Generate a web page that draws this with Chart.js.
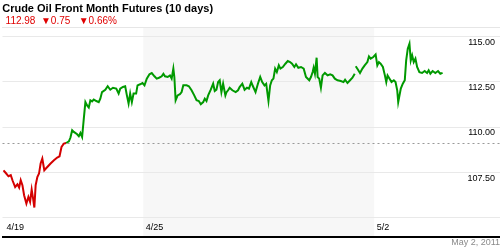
<!DOCTYPE html>
<html>
<head>
<meta charset="utf-8">
<script src="https://cdn.jsdelivr.net/npm/chart.js@4"></script>
<style>
  body { margin: 0; background: #fff; }
</style>
</head>
<body>
<canvas id="chart" width="500" height="250"></canvas>
<script>
// session clock (x) and front month price
const times = [1, 3.3, 6, 8.3, 10, 12.7, 15, 16.7, 18.3, 20, 21.7, 24, 26, 27.7, 29.3, 30.7, 32, 33.3, 35, 36.7,
  38.3, 40, 42, 45, 48.3, 51.7, 55, 57.3, 59.3, 61.7, 64, 66.7, 68.3, 70, 71.7, 75, 76.7, 78.3, 80, 81.7,
  83.3, 85, 86.7, 88.3, 90, 91.7, 94.3, 96.7, 98.3, 100, 103.3, 105.7, 108.3, 111, 114.3, 116.7, 118.3, 121, 123.3, 125,
  126.7, 128.3, 130, 131.7, 134.3, 135.7, 138.3, 140.7, 142.7, 145, 147.7, 150, 152.7, 155, 157.3, 160, 161.7, 163.3, 166, 168.3,
  170, 171.7, 172.7, 174, 176, 178.3, 180, 181.7, 185, 187.3, 190, 192.7, 195, 197.3, 199.3, 201.7, 203.3, 205, 206.7, 209.3,
  211.7, 213.3, 215, 216.7, 218.3, 220, 221.7, 224, 225, 226.7, 228.3, 231, 234.3, 236.7, 238.3, 241, 243.3, 245.7, 247.7, 250,
  251.7, 254.3, 256.7, 259, 261, 263.3, 265, 267.3, 269, 270.7, 272.3, 274, 275.7, 277.7, 279.3, 281.7, 284.3, 286.7, 289, 291,
  293.3, 295, 297.3, 300, 302.7, 305, 308.3, 310, 311.7, 312.7, 314, 315.7, 316.7, 318.3, 320, 321.7, 324, 326.7, 329.3, 331.7,
  334, 336.7, 340, 342.7, 344.3, 346.7, 349.3, 351.7, 354, 354.5, 355, 357.3, 359.3, 361.7, 364, 366.7, 368.3, 370, 372.7, 375,
  376.7, 378.3, 380, 382.3, 384.3, 385.7, 387, 389, 391, 393.3, 395, 396.7, 397.7, 399, 400.3, 402.3, 404.3, 405.7, 407.3, 409,
  410.3, 411.7, 413.3, 415, 416.7, 419, 421.7, 424.3, 426.7, 428.3, 430, 432.3, 435, 437.7, 440, 442.3];

const prices = [107.62, 107.47, 107.29, 107.35, 107.07, 106.70, 106.85, 106.67, 107.07, 106.80, 106.25, 105.79, 106.15, 105.88, 106.56, 106.07, 105.57, 106.80, 107.25, 107.44,
  107.99, 108.26, 107.62, 107.80, 107.99, 108.17, 108.32, 108.39, 108.90, 109.09, 109.12, 109.21, 109.42, 109.82, 109.73, 109.60, 109.49, 109.67, 109.45, 110.46,
  111.37, 111.19, 111.07, 111.47, 111.41, 111.51, 111.43, 111.37, 111.56, 111.92, 112.05, 112.24, 112.05, 112.16, 112.11, 111.84, 112.11, 112.20, 112.24, 111.74,
  111.29, 111.84, 111.37, 111.84, 111.84, 112.29, 112.35, 112.42, 112.29, 112.66, 112.90, 112.97, 112.79, 112.66, 112.71, 112.79, 112.93, 112.79, 112.75, 112.84,
  112.66, 113.21, 112.75, 111.47, 111.74, 111.80, 111.92, 112.29, 112.29, 112.24, 112.02, 111.74, 111.47, 111.43, 111.25, 111.37, 111.56, 111.43, 111.74, 112.05,
  112.38, 111.98, 112.05, 112.47, 112.57, 111.92, 112.38, 111.74, 111.90, 112.02, 112.16, 112.02, 111.92, 112.02, 112.20, 112.38, 112.05, 112.16, 112.11, 112.47,
  112.24, 111.92, 112.38, 112.75, 112.47, 112.29, 112.38, 111.43, 112.29, 112.57, 112.66, 113.21, 113.02, 113.39, 113.21, 113.30, 113.48, 113.63, 113.57, 113.48,
  113.30, 113.45, 113.26, 113.30, 113.21, 112.75, 112.57, 112.75, 113.02, 113.26, 112.93, 113.81, 112.75, 112.66, 112.16, 112.84, 112.97, 112.84, 112.90, 112.84,
  112.66, 112.57, 112.53, 112.47, 112.60, 112.42, 112.57, 112.71, 112.93, null, 113.34, 113.15, 112.97, 113.21, 113.39, 113.57, 113.88, 113.76, 113.85, 113.99,
  113.39, 113.57, 113.48, 113.30, 112.84, 112.47, 112.84, 112.66, 112.47, 112.57, 112.47, 112.02, 111.37, 111.74, 112.11, 112.38, 112.57, 113.66, 114.31, 114.58,
  113.66, 113.94, 113.57, 113.76, 113.30, 113.02, 112.97, 113.08, 112.97, 113.12, 112.93, 113.08, 112.97, 113.08, 112.93, 112.98];

const dayTicks = [1.5, 141.5, 373.5];
const dayLabels = ['4/19', '4/25', '5/2'];
const priceTicks = [105, 107.5, 110, 112.5, 115];
const prevClose = 109.12;
const lastPrice = '112.98', change = '0.75', changePct = '0.66%';
const asOf = 'May 2, 2011';

const RED = '#d40000', GREEN = '#009900';

Chart.defaults.font.family = 'Arial, "Liberation Sans", sans-serif';

// grey band for the week of 4/25 and the dotted reference level
const decor = {
  id: 'decor',
  beforeDraw(chart) {
    const { ctx, chartArea: a, scales: { x } } = chart;
    const x0 = x.getPixelForValue(dayTicks[1]);
    const x1 = x.getPixelForValue(dayTicks[2]);
    ctx.save();
    ctx.fillStyle = '#f7f7f7';
    ctx.fillRect(x0, a.top, x1 - x0, a.bottom - a.top);
    ctx.restore();
  },
  beforeDatasetsDraw(chart) {
    const { ctx, chartArea: a, scales: { y } } = chart;
    const py = Math.round(y.getPixelForValue(prevClose)) + 0.5;
    ctx.save();
    ctx.strokeStyle = '#999';
    ctx.lineWidth = 1;
    ctx.setLineDash([2, 3]);
    ctx.beginPath();
    ctx.moveTo(a.left, py);
    ctx.lineTo(a.right, py);
    ctx.stroke();
    ctx.restore();
  }
};

new Chart(document.getElementById('chart'), {
  type: 'line',
  data: {
    datasets: [{
      data: times.map((t, i) => ({ x: t, y: prices[i] })),
      borderWidth: 2,
      pointRadius: 0,
      tension: 0,
      spanGaps: false,
      segment: {
        borderColor: c => ((c.p0.parsed.y + c.p1.parsed.y) / 2 < prevClose ? RED : GREEN)
      }
    }]
  },
  options: {
    responsive: false,
    animation: false,
    layout: { padding: 0 },
    plugins: {
      legend: { display: false },
      tooltip: { enabled: false },
      title: {
        display: true,
        text: '\u2009Crude Oil Front Month Futures (10 days)',
        align: 'start',
        color: '#000',
        font: { size: 11, weight: 'bold', lineHeight: '12px' },
        padding: { top: 3, bottom: 0 }
      },
      subtitle: {
        display: true,
        text: '  ' + lastPrice + '  \u25BC' + change + '   \u25BC' + changePct,
        align: 'start',
        color: '#e00000',
        font: { size: 10, lineHeight: '12px' },
        padding: { top: 0, bottom: 0 }
      }
    },
    scales: {
      x: {
        type: 'linear',
        min: 0,
        max: 500,
        grid: { display: false, drawTicks: false },
        border: { display: true, color: '#000', width: 2 },
        afterBuildTicks: s => { s.ticks = dayTicks.map(v => ({ value: v })); },
        ticks: {
          autoSkip: false,
          maxRotation: 0,
          align: 'start',
          mirror: true,
          padding: 4,
          labelOffset: 2.5,
          color: '#000',
          font: { size: 9, lineHeight: '11px' },
          callback: v => dayLabels[dayTicks.indexOf(v)]
        },
        title: {
          display: true,
          text: asOf,
          align: 'end',
          color: '#8a8a8a',
          font: { size: 9, lineHeight: '11px' },
          padding: { top: -7.5, bottom: 1.5 }
        }
      },
      xTop: {
        type: 'linear',
        position: 'top',
        min: 0,
        max: 500,
        grid: { display: false, drawTicks: false },
        border: { display: true, color: '#e6e6e6', width: 1 },
        ticks: { display: false }
      },
      y: {
        position: 'right',
        min: 103.95,
        max: 115.5,
        afterBuildTicks: s => { s.ticks = priceTicks.map(v => ({ value: v })); },
        grid: { color: '#e9e9e9', drawTicks: false },
        border: { display: false },
        ticks: {
          mirror: true,
          padding: 0,
          labelOffset: 6,
          color: '#000',
          font: { size: 9 },
          callback: v => (v < 106 ? '' : v.toFixed(2) + '  ')
        }
      }
    }
  },
  plugins: [decor]
});
</script>
</body>
</html>
